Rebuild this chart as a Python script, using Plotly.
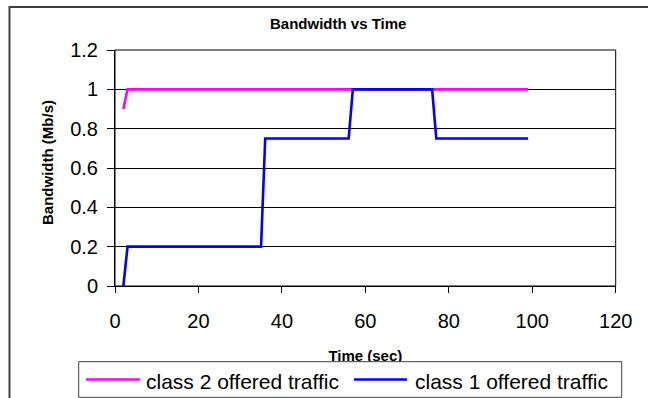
import plotly.graph_objects as go

# Offered traffic per class, sampled at the points where the rate changes
time_class2 = [2, 3, 99]
rate_class2 = [0.9, 1.0, 1.0]

time_class1 = [2, 3, 35, 36, 56, 57, 76, 77, 99]
rate_class1 = [0.0, 0.2, 0.2, 0.75, 0.75, 1.0, 1.0, 0.75, 0.75]

series_names = ["class 2 offered traffic", "class 1 offered traffic"]
series_colors = ["#FF00FF", "#0000FF"]

x_ticks = [0, 20, 40, 60, 80, 100, 120]
y_ticks = [0, 0.2, 0.4, 0.6, 0.8, 1.0, 1.2]

chart_title = "Bandwidth vs Time"
x_title = "Time (sec)"
y_title = "Bandwidth (Mb/s)"

W, H = 648, 398
FONT = "Liberation Sans, Arial, sans-serif"

# plot area in pixels
PX0, PX1 = 115.0, 615.7
PY0, PY1 = 50.0, 286.0

fig = go.Figure()

fig.add_trace(go.Scatter(
    x=time_class2, y=rate_class2, mode="lines", name=series_names[0],
    line=dict(color=series_colors[0], width=2.6), showlegend=False,
    xaxis="x", yaxis="y"))
fig.add_trace(go.Scatter(
    x=time_class1, y=rate_class1, mode="lines", name=series_names[1],
    line=dict(color=series_colors[1], width=2.6), showlegend=False,
    xaxis="x", yaxis="y"))

# pixel-space overlay used for the x title
fig.add_trace(go.Scatter(
    x=[(PX0 + PX1) / 2], y=[357.5], mode="text",
    text=["<b>" + x_title + "</b>"],
    textfont=dict(family=FONT, size=15, color="black"),
    textposition="middle center", cliponaxis=False, showlegend=False,
    hoverinfo="skip", xaxis="x2", yaxis="y2"))


def px(x):
    return x / W


def py(y):
    return 1 - y / H


shapes = []
# outer chart frame: left and top edges (the rest lies beyond the page)
shapes.append(dict(type="path", xref="paper", yref="paper",
                   path=f"M{px(9.5)},{py(H + 5)} L{px(9.5)},{py(7)} L{px(W + 5)},{py(7)}",
                   line=dict(color="#404040", width=2), layer="below"))
# plot area border
shapes.append(dict(type="rect", xref="x domain", yref="y domain", x0=0, y0=0, x1=1, y1=1,
                   line=dict(color="black", width=1), layer="above"))
# legend box
LX0, LX1, LY0, LY1 = 78.7, 621.7, 361.7, 397.3
shapes.append(dict(type="rect", xref="x2", yref="y2", x0=LX0, y0=LY0, x1=LX1, y1=LY1,
                   fillcolor="white", line=dict(color="#404040", width=1), layer="above"))
legend_lines = [(86, 140), (354, 407)]
legend_text_x = [144, 412.7]
LYC = 379.5
for (a, b), c in zip(legend_lines, series_colors):
    shapes.append(dict(type="line", xref="x2", yref="y2", x0=a, x1=b, y0=LYC, y1=LYC,
                       line=dict(color=c, width=2.6), layer="above"))

annotations = []
for tx, name in zip(legend_text_x, series_names):
    annotations.append(dict(x=tx, y=LYC + 1.5, xref="x2", yref="y2", text=name,
                            showarrow=False, xanchor="left", yanchor="middle",
                            font=dict(family=FONT, size=21, color="black")))
annotations.append(dict(x=338, y=23.5, xref="x2", yref="y2", text="<b>" + chart_title + "</b>",
                        showarrow=False, xanchor="center", yanchor="middle",
                        font=dict(family=FONT, size=15, color="black")))
annotations.append(dict(x=47, y=163, xref="x2", yref="y2", text="<b>" + y_title + "</b>",
                        showarrow=False, xanchor="center", yanchor="middle", textangle=-90,
                        font=dict(family=FONT, size=15, color="black")))

fig.update_layout(
    width=W, height=H, autosize=False,
    margin=dict(l=0, r=0, t=0, b=0, pad=0),
    paper_bgcolor="white", plot_bgcolor="rgba(0,0,0,0)",
    showlegend=False,
    font=dict(family=FONT, color="black"),
    xaxis=dict(domain=[PX0 / W, PX1 / W], range=[0, 120], tickvals=x_ticks,
               showline=True, linecolor="black", linewidth=1,
               ticks="outside", ticklen=6, tickcolor="black", tickwidth=1,
               ticklabelstandoff=11,
               showgrid=False, zeroline=False, automargin=False,
               tickfont=dict(family=FONT, size=20, color="black"), anchor="y"),
    yaxis=dict(domain=[(H - PY1) / H, (H - PY0) / H], range=[0, 1.2], tickvals=y_ticks,
               showline=True, linecolor="black", linewidth=1,
               ticks="outside", ticklen=7, tickcolor="black", tickwidth=1,
               ticklabelstandoff=5,
               showgrid=True, gridcolor="black", gridwidth=1, zeroline=False,
               automargin=False,
               tickfont=dict(family=FONT, size=20, color="black"), anchor="x"),
    xaxis2=dict(domain=[0, 1], range=[0, W], visible=False, anchor="y2", fixedrange=True),
    yaxis2=dict(domain=[0, 1], range=[H, 0], visible=False, anchor="x2", fixedrange=True),
    shapes=shapes,
    annotations=annotations,
)

fig.write_html("out.html", config={"displayModeBar": False, "staticPlot": True})
